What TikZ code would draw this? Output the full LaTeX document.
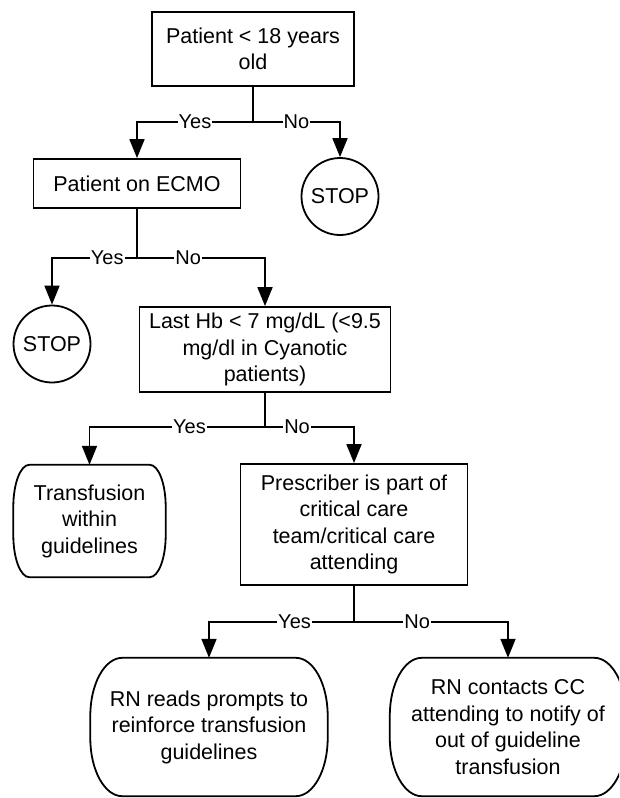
\documentclass[tikz,border=0pt]{standalone}
\usepackage{fontspec}
\setmainfont{Liberation Sans}
\usetikzlibrary{arrows.meta}
\newcommand\drawterm[3]{%
  \draw[ln] ([xshift=#2]#1.north west) -- ([xshift=-#2]#1.north east)
    arc[start angle=90,end angle=0,x radius=#2,y radius=#3]
    -- ([yshift=#3]#1.south east)
    arc[start angle=0,end angle=-90,x radius=#2,y radius=#3]
    -- ([xshift=#2]#1.south west)
    arc[start angle=270,end angle=180,x radius=#2,y radius=#3]
    -- ([yshift=-#3]#1.north west)
    arc[start angle=180,end angle=90,x radius=#2,y radius=#3] -- cycle;}
\begin{document}
\begin{tikzpicture}[x=1pt,y=-1pt,
  txt/.style={font=\fontsize{21.5}{26.5}\selectfont, align=center, inner sep=0pt},
  box/.style={txt, draw, line width=1.8pt, rectangle},
  stopc/.style={txt, draw, line width=1.8pt, circle, minimum size=77pt},
  term/.style={txt, rectangle},
  ln/.style={line width=1.8pt},
  arr/.style={ln, -{Triangle[length=19pt,width=15pt]}},
  lbl/.style={font=\fontsize{20}{24}\selectfont, fill=white, inner sep=1pt}
]
\useasboundingbox (0,0) rectangle (619,798);
\clip (0,0) rectangle (619,798);
\fill[white] (0,0) rectangle (619,798);

\node[box, minimum width=202pt, minimum height=74pt] (b1) at (253,49) {Patient < 18 years\\old};
\node[stopc] (s1) at (340,196.5) {STOP};
\node[box, minimum width=207pt, minimum height=49pt] (ecmo) at (137,183.5) {Patient on ECMO};
\node[stopc] (s2) at (52,344) {STOP};
\node[box, minimum width=251pt, minimum height=85pt] (hb) at (265,349.5) {Last Hb < 7 mg/dL (<9.5\\mg/dl in Cyanotic\\patients)};
\node[term, minimum width=152pt, minimum height=112pt] (tr) at (89.5,521) {Transfusion\\within\\guidelines};
\drawterm{tr}{16pt}{42pt}
\node[box, minimum width=227pt, minimum height=121pt] (pr) at (354,524.5) {Prescriber is part of\\critical care\\team/critical care\\attending};
\node[term, minimum width=237pt, minimum height=138pt] (rn1) at (209,727) {RN reads prompts to\\reinforce transfusion\\guidelines};
\drawterm{rn1}{32pt}{58pt}
\node[term, minimum width=236pt, minimum height=138pt] (rn2) at (508,727) {RN contacts CC\\attending to notify of\\out of guideline\\transfusion};
\drawterm{rn2}{32pt}{58pt}

% level 1
\coordinate (j1) at (253,122);
\draw[ln] (b1.south) -- (j1);
\draw[arr] (j1) -- node[lbl,pos=0.5]{Yes} (j1 -| ecmo.north) -- (ecmo.north);
\draw[arr] (j1) -- node[lbl,pos=0.5]{No} (j1 -| s1.north) -- (s1.north);

% level 2
\coordinate (j2) at (137,258);
\draw[ln] (ecmo.south) -- (j2);
\draw[arr] (j2) -- node[lbl,pos=0.35]{Yes} (j2 -| s2.north) -- (s2.north);
\draw[arr] (j2) -- node[lbl,pos=0.4]{No} (j2 -| hb.north) -- (hb.north);

% level 3
\coordinate (j3) at (265,427);
\draw[ln] (hb.south) -- (j3);
\draw[arr] (j3) -- node[lbl,pos=0.43]{Yes} (j3 -| tr.north) -- (tr.north);
\draw[arr] (j3) -- node[lbl,pos=0.36]{No} (j3 -| pr.north) -- (pr.north);

% level 4
\coordinate (j4) at (354,622);
\draw[ln] (pr.south) -- (j4);
\draw[arr] (j4) -- node[lbl,pos=0.41]{Yes} (j4 -| rn1.north) -- (rn1.north);
\draw[arr] (j4) -- node[lbl,pos=0.41]{No} (j4 -| rn2.north) -- (rn2.north);
\end{tikzpicture}
\end{document}
